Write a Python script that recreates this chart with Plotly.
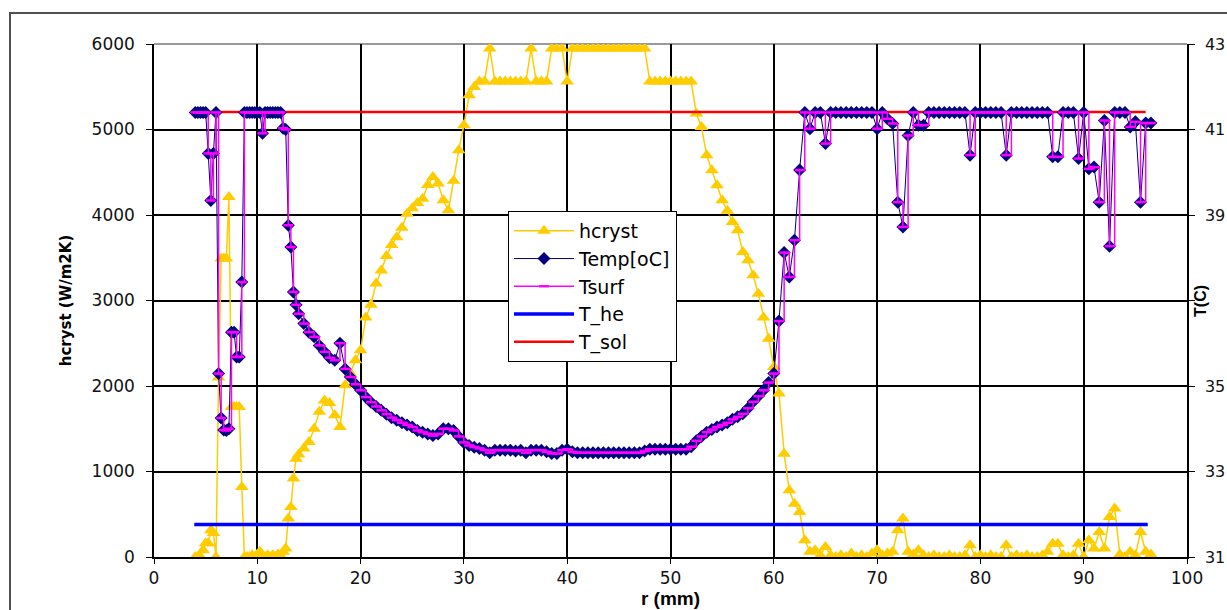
import plotly.graph_objects as go

# ---------------- data ----------------
r_mm = [
    4.0, 4.25, 4.5, 4.75, 5.0, 5.25, 5.5, 5.75, 6.0, 6.25,
    6.5, 6.75, 7.0, 7.25, 7.5, 7.75, 8.0, 8.25, 8.5, 8.75,
    9.0, 9.25, 9.5, 9.75, 10.0, 10.25, 10.5, 10.75, 11.0, 11.25,
    11.5, 11.75, 12.0, 12.25, 12.5, 12.75, 13.0, 13.25, 13.5, 13.75,
    14.0, 14.5, 15.0, 15.5, 16.0, 16.5, 17.0, 17.5, 18.0, 18.5,
    19.0, 19.5, 20.0, 20.5, 21.0, 21.5, 22.0, 22.5, 23.0, 23.5,
    24.0, 24.5, 25.0, 25.5, 26.0, 26.5, 27.0, 27.5, 28.0, 28.5,
    29.0, 29.5, 30.0, 30.5, 31.0, 31.5, 32.0, 32.5, 33.0, 33.5,
    34.0, 34.5, 35.0, 35.5, 36.0, 36.5, 37.0, 37.5, 38.0, 38.5,
    39.0, 39.5, 40.0, 40.5, 41.0, 41.5, 42.0, 42.5, 43.0, 43.5,
    44.0, 44.5, 45.0, 45.5, 46.0, 46.5, 47.0, 47.5, 48.0, 48.5,
    49.0, 49.5, 50.0, 50.5, 51.0, 51.5, 52.0, 52.5, 53.0, 53.5,
    54.0, 54.5, 55.0, 55.5, 56.0, 56.5, 57.0, 57.5, 58.0, 58.5,
    59.0, 59.5, 60.0, 60.5, 61.0, 61.5, 62.0, 62.5, 63.0, 63.5,
    64.0, 64.5, 65.0, 65.5, 66.0, 66.5, 67.0, 67.5, 68.0, 68.5,
    69.0, 69.5, 70.0, 70.5, 71.0, 71.5, 72.0, 72.5, 73.0, 73.5,
    74.0, 74.5, 75.0, 75.5, 76.0, 76.5, 77.0, 77.5, 78.0, 78.5,
    79.0, 79.5, 80.0, 80.5, 81.0, 81.5, 82.0, 82.5, 83.0, 83.5,
    84.0, 84.5, 85.0, 85.5, 86.0, 86.5, 87.0, 87.5, 88.0, 88.5,
    89.0, 89.5, 90.0, 90.5, 91.0, 91.5, 92.0, 92.5, 93.0, 93.5,
    94.0, 94.5, 95.0, 95.5, 96.0, 96.5,
]

hcryst = [
    0, 0, 0, 80, 160, 160, 312, 280, 0, 2100,
    3490, 3490, 3490, 4210, 1754, 1754, 1754, 1754, 819, 0,
    0, 0, 20, 0, 30, 60, 20, 0, 20, 0,
    20, 0, 30, 20, 60, 100, 449, 585, 917, 1150,
    1200, 1268, 1345, 1500, 1700, 1830, 1800, 1657, 1520, 2008,
    2150, 2300, 2418, 2800, 2950, 3200, 3350, 3520, 3650, 3740,
    3850, 4016, 4080, 4140, 4190, 4350, 4444, 4367, 4172, 4055,
    4400, 4757, 5049, 5400, 5497, 5560, 5560, 5946, 5560, 5560,
    5560, 5560, 5560, 5560, 5560, 5946, 5560, 5560, 5560, 5946,
    5946, 5946, 5560, 5946, 5946, 5946, 5946, 5946, 5946, 5946,
    5946, 5946, 5946, 5946, 5946, 5946, 5946, 5946, 5560, 5560,
    5560, 5560, 5560, 5560, 5560, 5560, 5560, 5186, 5029, 4698,
    4523, 4347, 4172, 4050, 3918, 3821, 3567, 3470, 3295, 3080,
    2800, 2554, 2222, 1911, 1209, 780, 624, 526, 195, 60,
    78, 20, 117, 20, 0, 20, 0, 40, 0, 20,
    0, 40, 78, 20, 40, 60, 312, 449, 60, 30,
    78, 20, 0, 20, 0, 0, 20, 0, 0, 20,
    137, 0, 20, 0, 20, 0, 0, 137, 0, 20,
    0, 20, 0, 0, 20, 60, 156, 156, 20, 0,
    20, 156, 0, 195, 100, 292, 100, 468, 566, 30,
    0, 60, 20, 292, 60, 30,
]

temp_c = [
    41.4, 41.4, 41.4, 41.4, 41.4, 40.44, 39.34, 40.44, 41.4, 35.29,
    34.25, 33.97, 33.96, 34.0, 36.26, 36.26, 35.68, 35.68, 37.43, 41.4,
    41.4, 41.4, 41.4, 41.4, 41.4, 41.4, 40.91, 41.4, 41.4, 41.4,
    41.4, 41.4, 41.4, 41.4, 41.03, 41.0, 38.76, 38.25, 37.2, 36.9,
    36.69, 36.46, 36.26, 36.15, 35.95, 35.8, 35.66, 35.6, 36.0, 35.4,
    35.21, 35.04, 34.9, 34.74, 34.62, 34.52, 34.43, 34.34, 34.26, 34.2,
    34.14, 34.09, 34.04, 33.96, 33.92, 33.88, 33.84, 33.88, 34.0, 34.0,
    33.96, 33.82, 33.68, 33.61, 33.57, 33.54, 33.5, 33.44, 33.5, 33.5,
    33.5, 33.5, 33.48, 33.5, 33.44, 33.5, 33.5, 33.5, 33.46, 33.42,
    33.42, 33.5, 33.52, 33.46, 33.44, 33.44, 33.44, 33.44, 33.44, 33.44,
    33.44, 33.44, 33.44, 33.44, 33.44, 33.44, 33.44, 33.48, 33.52, 33.52,
    33.52, 33.52, 33.52, 33.52, 33.52, 33.52, 33.58, 33.72, 33.82, 33.92,
    33.98, 34.04, 34.09, 34.14, 34.22, 34.28, 34.35, 34.48, 34.63, 34.76,
    34.9, 35.08, 35.29, 36.52, 38.12, 37.55, 38.41, 40.05, 41.4, 41.02,
    41.4, 41.4, 40.67, 41.4, 41.4, 41.4, 41.4, 41.4, 41.4, 41.4,
    41.4, 41.4, 41.02, 41.4, 41.25, 41.14, 39.3, 38.72, 40.86, 41.4,
    41.1, 41.1, 41.4, 41.4, 41.4, 41.4, 41.4, 41.4, 41.4, 41.4,
    40.4, 41.4, 41.4, 41.4, 41.4, 41.4, 41.4, 40.4, 41.4, 41.4,
    41.4, 41.4, 41.4, 41.4, 41.4, 41.4, 40.36, 40.36, 41.4, 41.4,
    41.4, 40.32, 41.4, 40.08, 40.12, 39.3, 41.21, 38.27, 41.4, 41.4,
    41.4, 41.06, 41.18, 39.3, 41.15, 41.15,
]

tsurf_c = temp_c  # surface temperature coincides with Temp in the picture

the_x = [3.9, 96.2]
the_c = [31.76, 31.76]
sol_x = [4.5, 96.0]
sol_c = [41.41, 41.41]

x_ticks = [0, 10, 20, 30, 40, 50, 60, 70, 80, 90, 100]
h_ticks = [0, 1000, 2000, 3000, 4000, 5000, 6000]
t_ticks = [31, 33, 35, 37, 39, 41, 43]
t_ticktext = ["31", "33", "35", "", "39", "41", "43"]

# ---------------- figure ----------------
FONT = "DejaVu Sans, Liberation Sans, sans-serif"
BFONT = "Liberation Sans, Arial, sans-serif"
fig = go.Figure()

fig.add_trace(go.Scatter(
    x=r_mm, y=hcryst, name="hcryst", yaxis="y", mode="lines+markers",
    line=dict(color="#FFCC00", width=1.5),
    marker=dict(symbol="triangle-up", size=12, color="#FFCC00"),
    legendrank=1, legendgroup="g1"))
fig.add_trace(go.Scatter(
    x=the_x, y=the_c, name="T_he", yaxis="y2", mode="lines",
    line=dict(color="#0000FF", width=3.5),
    legendrank=4, legendgroup="g4"))
fig.add_trace(go.Scatter(
    x=sol_x, y=sol_c, name="T_sol", yaxis="y2", mode="lines",
    line=dict(color="#FF0000", width=2.5),
    legendrank=5, legendgroup="g5"))
fig.add_trace(go.Scatter(
    x=r_mm, y=temp_c, name="Temp[oC]", yaxis="y2", mode="lines+markers",
    line=dict(color="#000080", width=1),
    marker=dict(symbol="diamond", size=10, color="#000080"),
    legendrank=2, legendgroup="g2"))
fig.add_trace(go.Scatter(
    x=r_mm, y=tsurf_c, name="Tsurf", yaxis="y2", mode="lines+markers",
    line=dict(color="#FF00FF", width=1.5, shape="hv"),
    marker=dict(symbol="line-ew", size=7, color="#FF00FF",
                line=dict(color="#FF00FF", width=2.5)),
    legendrank=3, legendgroup="g3"))

axis_font = dict(family=FONT, size=17, color="#111")
right_font = dict(family=FONT, size=16, color="#111")

fig.update_layout(
    width=1227, height=610,
    margin=dict(l=154, r=40, t=44, b=53, autoexpand=False),
    paper_bgcolor="white", plot_bgcolor="white",
    showlegend=True,
    legend=dict(x=0.3427, y=0.6745, xanchor="left", yanchor="top",
                bgcolor="white", bordercolor="black", borderwidth=1,
                font=dict(family=FONT, size=19, color="black"),
                itemwidth=60, tracegroupgap=5, traceorder="normal"),
    xaxis=dict(range=[0, 100], tickvals=x_ticks, showgrid=True,
               gridcolor="black", gridwidth=1.5, showline=True,
               linecolor="black", linewidth=1.5, ticks="outside",
               ticklen=5, tickcolor="black", tickfont=axis_font,
               zeroline=False, automargin=False,
               title=dict(text="<b>r (mm)</b>", standoff=2,
                          font=dict(family=BFONT, size=19, color="black"))),
    yaxis=dict(range=[0, 6000], tickvals=h_ticks, showgrid=True,
               gridcolor="black", gridwidth=1.5, showline=True,
               linecolor="black", linewidth=1.5, ticks="outside",
               ticklen=6, tickcolor="black", tickfont=axis_font,
               zeroline=False, ticklabelstandoff=8, automargin=False,
               title=dict(text="<b>hcryst (W/m2K)</b>", standoff=16,
                          font=dict(family="DejaVu Sans, sans-serif",
                                    size=15, color="black"))),
    yaxis2=dict(range=[31, 43], tickvals=t_ticks, ticktext=t_ticktext,
                overlaying="y", side="right", showgrid=False,
                showline=True, linecolor="black", linewidth=1.5,
                ticks="outside", ticklen=6, tickcolor="black",
                tickfont=right_font, zeroline=False, ticklabelstandoff=7,
                automargin=False),
    annotations=[dict(text="<b>T(C)</b>", xref="paper", yref="paper",
                      x=1.0232, y=0.50, showarrow=False, textangle=-90,
                      font=dict(family=BFONT, size=16, color="black"))],
    shapes=[
        dict(type="line", xref="paper", yref="paper", x0=0, x1=1,
             y0=1, y1=1, line=dict(color="#9a9a9a", width=2),
             layer="between"),
        dict(type="rect", xref="paper", yref="paper", x0=-0.1394,
             x1=1.3, y0=-0.3, y1=1.0604,
             line=dict(color="#505050", width=2), layer="below"),
    ],
)

fig.write_html(
    "out.html",
    config={"displayModeBar": False, "responsive": False},
    post_script="document.body.style.margin='0px';"
                "document.body.style.overflow='hidden';",
)
